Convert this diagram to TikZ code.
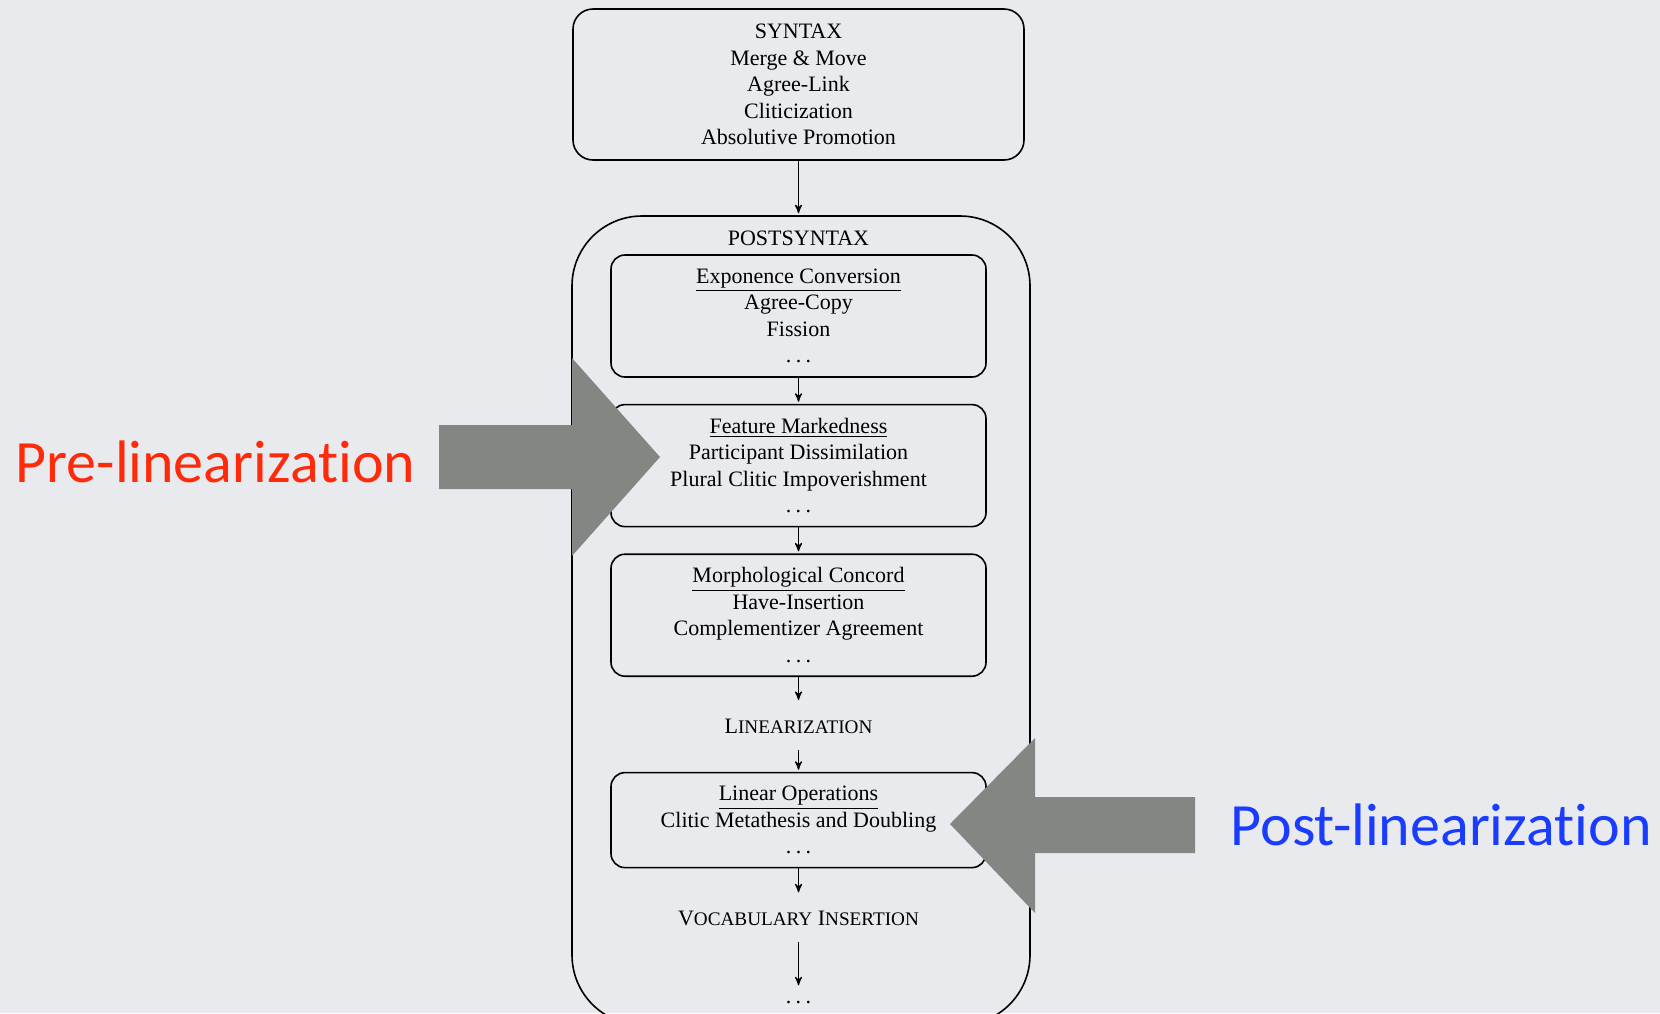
\documentclass[tikz,border=0pt]{standalone}
\usepackage{fontspec}
\setmainfont{Liberation Serif}
\newfontfamily\slidefont[Ligatures={NoCommon,NoRare}]{Carlito}
\usetikzlibrary{arrows,positioning}
\definecolor{slidebg}{HTML}{E9EAEE}
\definecolor{arrowgray}{HTML}{828784}
\definecolor{prered}{HTML}{FF2A0A}
\definecolor{postblue}{HTML}{1A3CFF}
\newcommand{\fakesc}[2]{#1{\fontsize{9.6}{10}\selectfont #2}}
\newcommand{\etcdots}{.\kern2.2pt.\kern2.2pt.}

\begin{document}
\begin{tikzpicture}[>=stealth',x=0.5pt,y=-0.5pt,semithick,font=\fontsize{11}{13.25}\selectfont]
  \tikzstyle{module}=[draw,thick,rounded corners=7pt,align=center,minimum width=187.5pt,minimum height=61pt]
  \tikzstyle{stage}=[inner ysep=8pt]
  \tikzstyle{bigarrow}=[fill=arrowgray]
  \tikzstyle{slidelabel}=[anchor=base west,inner sep=0pt,font=\slidefont\fontsize{30}{36}\selectfont]
\useasboundingbox (0,0) rectangle (1660,1013);
\fill[slidebg] (0,0) rectangle (1660,1013);
\node[module,rounded corners=10pt,minimum width=225.5pt,minimum height=75.5pt] (syn) at (798.5,84.5)
  {SYNTAX\\Merge \& Move\\Agree-Link\\Cliticization\\Absolutive Promotion};
\node[draw,thick,rounded corners=35pt,minimum width=229pt,minimum height=404.5pt] (post) at (801,620.5) {};
\node[anchor=base] (postlbl) at (798.5,245) {POSTSYNTAX};
\node[module] (exp) at (798.5,316) {\underline{Exponence Conversion}\\Agree-Copy\\Fission\\\etcdots};
\node[module] (feat) [below=13pt of exp] {\underline{Feature Markedness}\\Participant Dissimilation\\Plural Clitic Impoverishment\\\etcdots};
\node[module] (morph) [below=13pt of feat] {\underline{Morphological Concord}\\Have-Insertion\\Complementizer Agreement\\\etcdots};
\node[stage] (lin) [below=12.5pt of morph] {\fakesc{L}{INEARIZATION}};
\node[module,minimum height=47.5pt] (linop) [below=11pt of lin] {\underline{Linear Operations}\\Clitic Metathesis and Doubling\\\etcdots};
\node[stage] (voc) [below=13pt of linop] {\fakesc{V}{OCABULARY} \fakesc{I}{NSERTION}};
\node[inner ysep=6.5pt] (more) [below=22.5pt of voc] {\etcdots};
\draw[->,shorten >=1pt] (syn) -- (syn |- post.north);
\path[->,shorten >=1pt]
(exp) edge (feat)
(feat) edge (morph)
(morph) edge (lin)
(lin) edge (linop)
(linop) edge (voc)
(voc) edge (more);
\fill[bigarrow] (439,425) -- (572,425) -- (572,358) -- (660,457) -- (572,556) -- (572,489) -- (439,489) -- cycle;
\fill[bigarrow] (1195,797) -- (1035,797) -- (1035,738) -- (950,824) -- (1035,913) -- (1035,853) -- (1195,853) -- cycle;
\node[slidelabel,text=prered] (prelbl) at (15,482) {Pre-linearization};
\node[slidelabel,text=postblue] (postlbl2) at (1230,845) {Post-linearization};
\end{tikzpicture}
\end{document}
